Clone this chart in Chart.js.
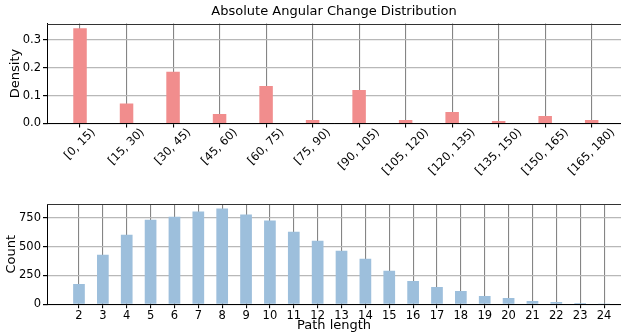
<!DOCTYPE html>
<html><head><meta charset="utf-8">
<script src="https://cdn.jsdelivr.net/npm/chart.js@4/dist/chart.umd.min.js"></script>
<style>
html,body{margin:0;padding:0;background:#fff;}
#wrap{position:relative;width:621px;height:333px;overflow:hidden;background:#fff}
canvas{position:absolute;left:0}
</style>
</head><body>
<div id="wrap">
<canvas id="c1" width="621" height="190" style="top:0px"></canvas>
<canvas id="c2" width="621" height="143" style="top:190px"></canvas>
</div>
<script>
// ---- data ----
const angleBins = ['[0, 15)', '[15, 30)', '[30, 45)', '[45, 60)', '[60, 75)', '[75, 90)',
                   '[90, 105)', '[105, 120)', '[120, 135)', '[135, 150)', '[150, 165)', '[165, 180)'];
const angleDensity = [0.341, 0.072, 0.185, 0.034, 0.134, 0.0125, 0.120, 0.0125, 0.041, 0.009, 0.027, 0.0125];
const densityTicks = [0, 0.1, 0.2, 0.3];

const pathLengths = [2, 3, 4, 5, 6, 7, 8, 9, 10, 11, 12, 13, 14, 15, 16, 17, 18, 19, 20, 21, 22, 23, 24];
const pathCounts = [177, 429, 604, 734, 760, 804, 830, 778, 726, 630, 551, 464, 395, 290, 203, 151, 116, 72, 55, 29, 20, 11, 1];
const countTicks = [0, 250, 500, 750];

const titleText = 'Absolute Angular Change Distribution';

Chart.defaults.font.family = "'DejaVu Sans', sans-serif";
Chart.defaults.color = '#000';

const topSpine = {
  id: 'topSpine',
  afterDraw(chart) {
    const {ctx, chartArea: a} = chart;
    ctx.save();
    ctx.strokeStyle = '#333';
    ctx.lineWidth = 1;
    ctx.beginPath();
    ctx.moveTo(a.left, Math.round(a.top) + 0.5);
    ctx.lineTo(a.right, Math.round(a.top) + 0.5);
    ctx.stroke();
    ctx.restore();
  }
};

const rotLabels = {
  id: 'rotLabels',
  afterDraw(chart) {
    const {ctx, chartArea: a} = chart;
    const xs = chart.scales.x;
    ctx.save();
    ctx.font = "11.5px 'DejaVu Sans'";
    ctx.fillStyle = '#000';
    ctx.textAlign = 'center';
    ctx.textBaseline = 'middle';
    const h = 13;
    angleBins.forEach((lab, i) => {
      const x = xs.getPixelForValue(i);
      const w = ctx.measureText(lab).width;
      const cy = a.bottom + 2.5 + (w + h) * Math.SQRT1_2 / 2;
      ctx.save();
      ctx.translate(x, cy);
      ctx.rotate(-Math.PI / 4);
      ctx.fillText(lab, 0, 0);
      ctx.restore();
    });
    ctx.restore();
  }
};

const tickFont = {size: 11.5};
const labelFont = {size: 13};

new Chart(document.getElementById('c1'), {
  type: 'bar',
  data: {
    datasets: [{
      data: angleDensity.map((v, i) => ({x: i, y: v})),
      backgroundColor: '#F18D8D',
      borderWidth: 0,
      barPercentage: 0.29,
      categoryPercentage: 1.0
    }]
  },
  options: {
    responsive: false, animation: false, devicePixelRatio: 1,
    layout: {padding: {left: 0, right: 0, top: 0, bottom: 0}},
    plugins: {
      legend: {display: false}, tooltip: {enabled: false},
      title: {display: true, fullSize: false, text: titleText, font: {size: 13, weight: 'normal'}, color: '#000',
              padding: {top: 3.5, bottom: 4.4}}
    },
    scales: {
      x: {
        type: 'linear', min: -0.71, max: 11.63, offset: false,
        afterBuildTicks: s => { s.ticks = angleBins.map((_, i) => ({value: i})); },
        afterFit: s => { s.height = 66.5; },
        ticks: {callback: () => '', font: tickFont},
        grid: {offset: false, color: '#858585', lineWidth: 1.1, tickColor: '#000', tickLength: 4},
        border: {color: '#000', width: 1}
      },
      y: {
        min: 0, max: 0.358,
        afterBuildTicks: s => { s.ticks = densityTicks.map(v => ({value: v})); },
        afterFit: s => { s.width = 47; },
        ticks: {font: tickFont, color: '#000', padding: 2, callback: v => v.toFixed(1)},
        grid: {color: '#b8b8b8', lineWidth: 1.2, tickColor: '#000', tickLength: 4},
        border: {color: '#000', width: 1},
        title: {display: true, text: 'Density', font: labelFont, color: '#000', padding: {top: 8.2, bottom: 0}}
      }
    }
  },
  plugins: [topSpine, rotLabels]
});

new Chart(document.getElementById('c2'), {
  type: 'bar',
  data: {
    datasets: [{
      data: pathCounts.map((v, i) => ({x: pathLengths[i], y: v})),
      backgroundColor: '#9DBFDC',
      borderWidth: 0,
      barPercentage: 0.49,
      categoryPercentage: 1.0
    }]
  },
  options: {
    responsive: false, animation: false, devicePixelRatio: 1,
    layout: {padding: {left: 0, right: 0, top: 14, bottom: 0}},
    plugins: {legend: {display: false}, tooltip: {enabled: false}},
    scales: {
      x: {
        type: 'linear', min: 0.66, max: 24.71, offset: false,
        afterBuildTicks: s => { s.ticks = pathLengths.map(v => ({value: v})); },
        afterFit: s => { s.height = 28.7; },
        ticks: {font: tickFont, color: '#000', padding: 1, maxRotation: 0, autoSkip: false},
        grid: {offset: false, color: '#858585', lineWidth: 1.1, tickColor: '#000', tickLength: 4},
        border: {color: '#000', width: 1},
        title: {display: true, text: 'Path length', font: labelFont, color: '#000', padding: {top: 0, bottom: -0.5}}
      },
      y: {
        min: 0, max: 870,
        afterBuildTicks: s => { s.ticks = countTicks.map(v => ({value: v})); },
        afterFit: s => { s.width = 47; },
        ticks: {font: tickFont, color: '#000', padding: 2},
        grid: {color: '#b8b8b8', lineWidth: 1.2, tickColor: '#000', tickLength: 4},
        border: {color: '#000', width: 1},
        title: {display: true, text: 'Count', font: labelFont, color: '#000', padding: {top: 4.2, bottom: 0}}
      }
    }
  },
  plugins: [topSpine]
});
</script>
</body></html>
